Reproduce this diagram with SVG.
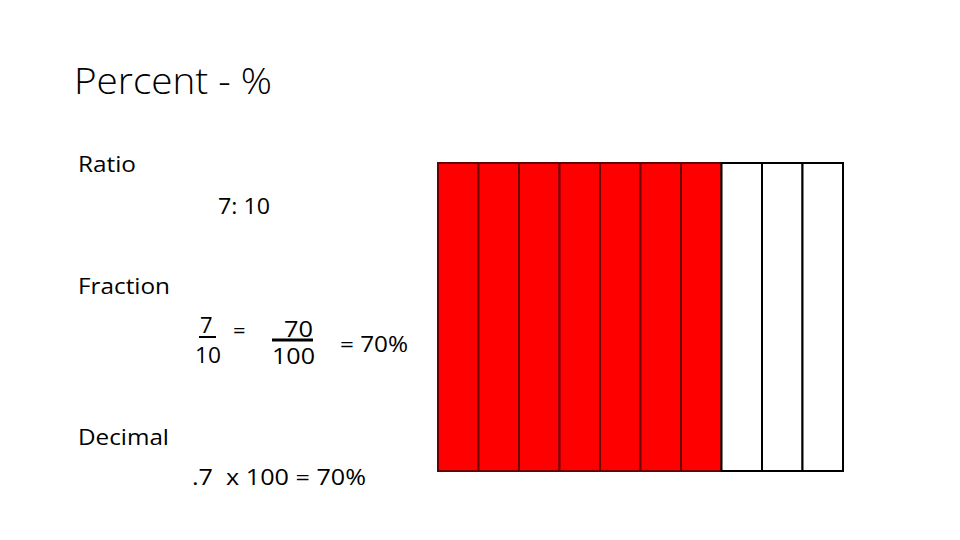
<svg xmlns="http://www.w3.org/2000/svg" width="960" height="540" viewBox="0 0 960 540">
<style>
.t{font-family:"Open Sans","Liberation Sans",sans-serif;fill:#000}
.r{fill:#ff0000;stroke:#6b0000;stroke-width:2}
.w{fill:#fff;stroke:#000;stroke-width:2}
</style>
<rect width="960" height="540" fill="#fff"/>
<text class="t" x="74" y="94" font-size="37" font-weight="300" textLength="198" lengthAdjust="spacingAndGlyphs">Percent - %</text>
<text class="t" x="78" y="172" font-size="22" textLength="58" lengthAdjust="spacingAndGlyphs">Ratio</text>
<text class="t" x="218" y="214" font-size="22" textLength="52" lengthAdjust="spacingAndGlyphs">7: 10</text>
<text class="t" x="78" y="294" font-size="22" textLength="92" lengthAdjust="spacingAndGlyphs">Fraction</text>
<text class="t" x="78" y="445" font-size="22" textLength="91" lengthAdjust="spacingAndGlyphs">Decimal</text>
<g id="fraction1">
<text class="t" x="200" y="333" font-size="22">7</text>
<line x1="199" y1="337" x2="216" y2="337" stroke="#000" stroke-width="2"/>
<text class="t" x="195" y="363" font-size="22" textLength="26" lengthAdjust="spacingAndGlyphs">10</text>
</g>
<text class="t" x="233" y="338" font-size="22">=</text>
<g id="fraction2">
<text class="t" x="284" y="337" font-size="22" textLength="29" lengthAdjust="spacingAndGlyphs">70</text>
<line x1="272" y1="340" x2="313" y2="340" stroke="#000" stroke-width="3"/>
<text class="t" x="272" y="364" font-size="22" textLength="43" lengthAdjust="spacingAndGlyphs">100</text>
</g>
<text class="t" x="340" y="352" font-size="22" textLength="68" lengthAdjust="spacingAndGlyphs">= 70%</text>
<text class="t" x="192" y="485" font-size="22" xml:space="preserve" style="white-space:pre" textLength="174" lengthAdjust="spacingAndGlyphs">.7  x 100 = 70%</text>
<g id="grid">
<rect class="r" x="438" y="163" width="40.5" height="308"/>
<rect class="r" x="478.5" y="163" width="40.5" height="308"/>
<rect class="r" x="519" y="163" width="40.5" height="308"/>
<rect class="r" x="559.5" y="163" width="40.5" height="308"/>
<rect class="r" x="600" y="163" width="40.5" height="308"/>
<rect class="r" x="640.5" y="163" width="40.5" height="308"/>
<rect class="r" x="681" y="163" width="40.5" height="308"/>
<rect class="w" x="721.5" y="163" width="40.5" height="308"/>
<rect class="w" x="762" y="163" width="40.5" height="308"/>
<rect class="w" x="802.5" y="163" width="40.5" height="308"/>
</g>
</svg>
